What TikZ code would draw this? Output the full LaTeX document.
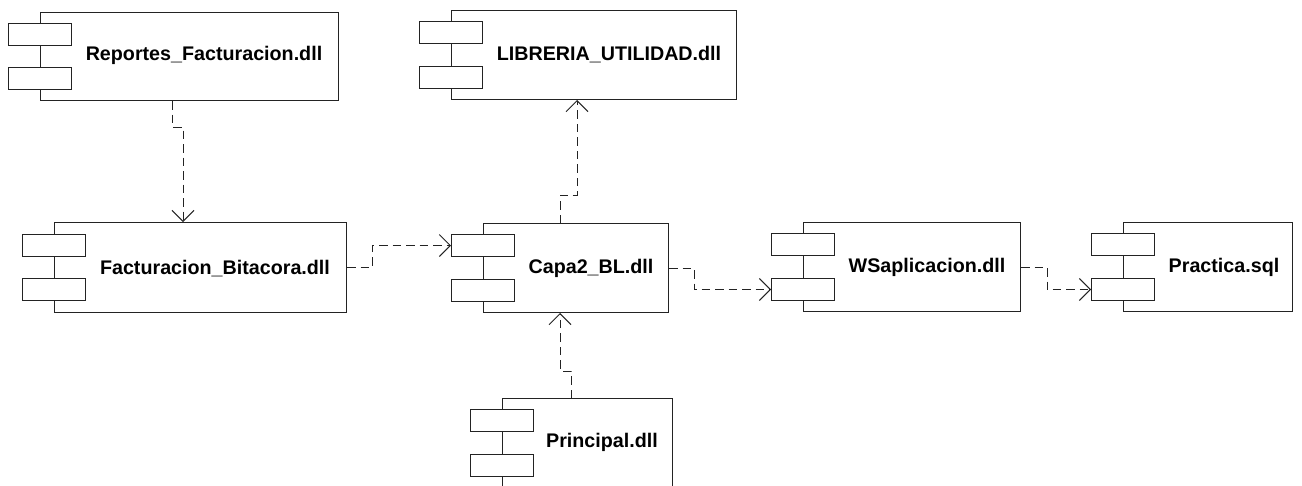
\documentclass[tikz,border=0pt]{standalone}
\usepackage{fontspec}
\setmainfont{Liberation Sans}
\usetikzlibrary{arrows.meta}
\definecolor{ln}{RGB}{35,35,35}
\tikzset{
  mainbox/.style={draw=ln, line width=1pt, fill=white, rectangle, inner sep=0pt, anchor=north west},
  port/.style={draw=ln, line width=1pt, fill=white, rectangle, inner sep=0pt, minimum width=63pt, minimum height=22pt, anchor=north},
  lbl/.style={font=\fontsize{19.7}{22}\selectfont\bfseries, inner sep=0pt, text=black},
  dep/.style={draw=ln, line width=1pt, dash pattern=on 8.5pt off 5pt, -{Straight Barb[length=11pt,width=22pt,line width=1pt]}}
}
\begin{document}
\begin{tikzpicture}[x=1pt,y=-1pt]
\useasboundingbox (0,0) rectangle (1302,485);
\clip (0,0) rectangle (1302,485);
% Reportes_Facturacion.dll
\node[mainbox, minimum width=298pt, minimum height=88pt] (rep) at (40,12) {};
\node[port] (rep1) at (40,23) {};
\node[port] (rep2) at (40,67) {};
\node[lbl] (repT) at (204,55) {Reportes\_Facturacion.dll};
% LIBRERIA_UTILIDAD.dll
\node[mainbox, minimum width=285pt, minimum height=89pt] (lib) at (451,10) {};
\node[port] (lib1) at (451,21) {};
\node[port] (lib2) at (451,66) {};
\node[lbl] (libT) at (609,55) {LIBRERIA\_UTILIDAD.dll};
% Facturacion_Bitacora.dll
\node[mainbox, minimum width=292pt, minimum height=90pt] (fac) at (54,222) {};
\node[port] (fac1) at (54,234) {};
\node[port] (fac2) at (54,278) {};
\node[lbl] (facT) at (215,269) {Facturacion\_Bitacora.dll};
% Capa2_BL.dll
\node[mainbox, minimum width=185pt, minimum height=89pt] (capa) at (483,223) {};
\node[port] (capa1) at (483,234) {};
\node[port] (capa2) at (483,279) {};
\node[lbl] (capaT) at (591,268) {Capa2\_BL.dll};
% WSaplicacion.dll
\node[mainbox, minimum width=217pt, minimum height=89pt] (ws) at (803,222) {};
\node[port] (ws1) at (803,233) {};
\node[port] (ws2) at (803,278) {};
\node[lbl] (wsT) at (927,267) {WSaplicacion.dll};
% Practica.sql
\node[mainbox, minimum width=169pt, minimum height=89pt] (prac) at (1123,222) {};
\node[port] (prac1) at (1123,233) {};
\node[port] (prac2) at (1123,278) {};
\node[lbl] (pracT) at (1224,267) {Practica.sql};
% Principal.dll
\node[mainbox, minimum width=170pt, minimum height=120pt] (prin) at (502,398) {};
\node[port] (prin1) at (502,409) {};
\node[port] (prin2) at (502,454) {};
\node[lbl] (prinT) at (602,442) {Principal.dll};
% dependencies
\draw[dep] (172,0 |- rep.south) |- (183,127) -- (183,0 |- fac.north);
\draw[dep] (fac.east) -| (372,0 |- capa1.west) -- (capa1.west);
\draw[dep] (560,0 |- capa.north) |- (577,195) -- (577,0 |- lib.south);
\draw[dep] (571,0 |- prin.north) |- (560,371) -- (560,0 |- capa.south);
\draw[dep] (capa.east) -| (694,0 |- ws2.west) -- (ws2.west);
\draw[dep] (ws.east) -| (1047,0 |- prac2.west) -- (prac2.west);
\end{tikzpicture}
\end{document}
